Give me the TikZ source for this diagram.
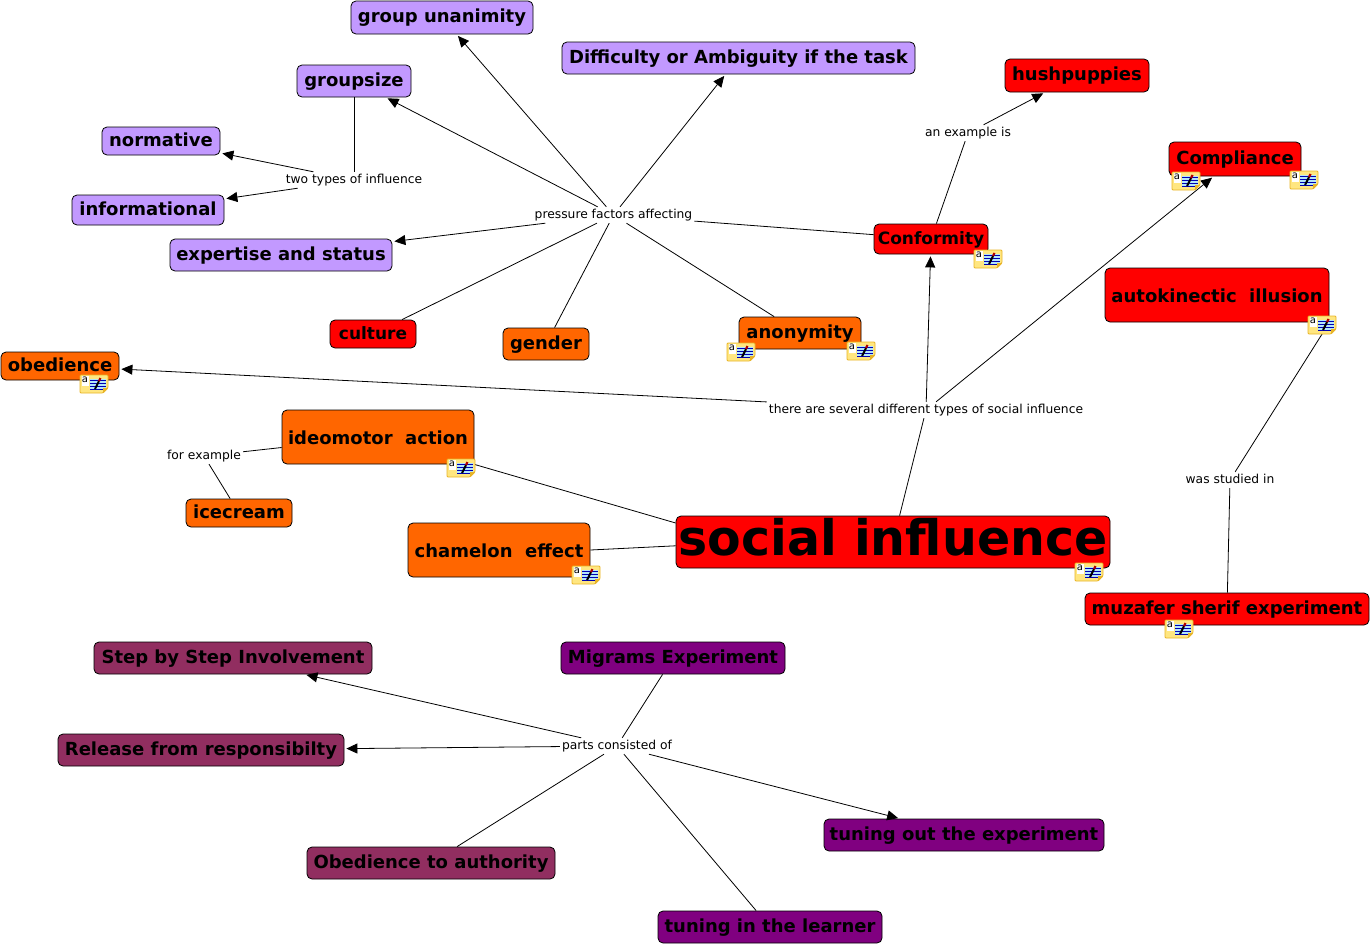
\documentclass[tikz,border=0pt]{standalone}
\usepackage{fontspec}
\setmainfont{DejaVu Sans}
\usepackage{xcolor}
\usetikzlibrary{arrows.meta}
\definecolor{cmlilac}{RGB}{194,153,255}
\definecolor{cmred}{RGB}{255,0,0}
\definecolor{cmorange}{RGB}{255,102,0}
\definecolor{cmplum}{RGB}{145,46,96}
\definecolor{cmpurple}{RGB}{128,0,128}
\definecolor{cmnote}{RGB}{255,230,128}
\definecolor{cmnotedge}{RGB}{232,180,40}

\begin{document}
\begin{tikzpicture}[
  x=1pt, y=-1pt,
  concept/.style={rectangle, draw=black, line width=0.8pt, rounded corners=5pt,
                  text=black, inner sep=0pt, align=center, text height=14pt, text depth=4pt,
                  font=\bfseries\fontsize{#1}{#1}\selectfont},
  concept/.default=18,
  boxsize/.style 2 args={minimum width=#1pt, minimum height=#2pt},
  lowtext/.style={text height=21pt, text depth=7pt},
  linking/.style={inner sep=2pt, text height=9pt, text depth=3pt,
                  font=\fontsize{12.3}{12.3}\selectfont},
  link/.style={draw=black, line width=0.8pt},
  flow/.style={link, -{Triangle[length=11pt,width=10pt]}, shorten >=2pt},
  noteicon/.pic={
    \fill[cmnote, draw=cmnotedge, line width=0.8pt, rounded corners=1pt]
      (-14,-9) -- (14,-9) -- (14,4) -- (9,9) -- (-14,9) -- cycle;
    \fill[white] (-12,-8) rectangle (-5,2);
    \node[inner sep=0pt, font=\fontsize{10}{10}\selectfont] (a) at (-9,-4) {a};
    \fill[white!70!cyan] (-4,-5) rectangle (12,5);
    \foreach \ly in {-4,-1,2,5} \draw[blue!70!black, line width=0.5pt] (-4,\ly) -- (12,\ly);
    \draw[black, line width=2pt] (1,5) -- (5,-3);
    \draw[red!70!black, line width=2.2pt] (5,-3) -- (6.5,-6);
    \fill[cmnotedge] (14,4) -- (9,4) -- (9,9) -- cycle;
  },
]

% Central concept
\node[concept=49, fill=cmred, boxsize={434}{52}, text height=36pt, text depth=10pt] (social) at (893,542) {social influence};

% Lilac concepts
\node[concept, fill=cmlilac, boxsize={182}{33}] (unanimity) at (442,17.5) {group unanimity};
\node[concept, fill=cmlilac, boxsize={353}{32}] (difficulty) at (738.5,58) {Difficulty or Ambiguity if the task};
\node[concept, fill=cmlilac, boxsize={114}{32}] (groupsize) at (354,81) {groupsize};
\node[concept, fill=cmlilac, boxsize={118}{28}] (normative) at (161,141) {normative};
\node[concept, fill=cmlilac, boxsize={152}{30}] (informational) at (148,210) {informational};
\node[concept, fill=cmlilac, boxsize={222}{32}] (expertise) at (281,255) {expertise and status};

% Red concepts
\node[concept=17, fill=cmred, boxsize={86}{28}] (culture) at (373,334) {culture};
\node[concept=17, fill=cmred, boxsize={114}{30}] (conformity) at (931,239) {Conformity};
\node[concept, fill=cmred, boxsize={144}{33}] (hushpuppies) at (1077,75.5) {hushpuppies};
\node[concept, fill=cmred, boxsize={132}{34}] (compliance) at (1235,159) {Compliance};
\node[concept, lowtext, fill=cmred, boxsize={224}{54}] (autokinectic) at (1217,295) {autokinectic\ \ illusion};
\node[concept, fill=cmred, boxsize={284}{32}] (muzafer) at (1227,609) {muzafer sherif experiment};

% Orange concepts
\node[concept, fill=cmorange, boxsize={86}{32}] (gender) at (546,344) {gender};
\node[concept, fill=cmorange, boxsize={122}{32}] (anonymity) at (800,333) {anonymity};
\node[concept, fill=cmorange, boxsize={118}{28}] (obedience) at (60,366) {obedience};
\node[concept, lowtext, fill=cmorange, boxsize={192}{54}] (ideomotor) at (378,437) {ideomotor\ \ action};
\node[concept, fill=cmorange, boxsize={106}{28}] (icecream) at (239,513) {icecream};
\node[concept, lowtext, fill=cmorange, boxsize={182}{54}] (chamelon) at (499,550) {chamelon\ \ effect};

% Milgram concepts
\node[concept, fill=cmplum, boxsize={278}{32}] (stepbystep) at (233,658) {Step by Step Involvement};
\node[concept, fill=cmpurple, boxsize={224}{32}] (migrams) at (673,658) {Migrams Experiment};
\node[concept, fill=cmplum, boxsize={286}{32}] (release) at (201,750) {Release from responsibilty};
\node[concept, fill=cmplum, boxsize={248}{32}] (authority) at (431,863) {Obedience to authority};
\node[concept, fill=cmpurple, boxsize={280}{32}] (tuningout) at (964,835) {tuning out the experiment};
\node[concept, fill=cmpurple, boxsize={224}{32}] (tuningin) at (770,927) {tuning in the learner};

% Linking phrases
\node[linking] (twotypes) at (354,180) {two types of influence};
\node[linking] (pressure) at (613.5,215) {pressure factors affecting};
\node[linking] (exampleis) at (968,133) {an example is};
\node[linking] (severaltypes) at (926,410) {there are several different types of social influence};
\node[linking] (forexample) at (204,456) {for example};
\node[linking] (studiedin) at (1230,480) {was studied in};
\node[linking] (partsof) at (617,746) {parts consisted of};

% Two types of influence
\draw[link] (groupsize) -- (twotypes);
\draw[flow] (twotypes) -- (normative);
\draw[flow] (twotypes) -- (informational);

% Pressure factors
\draw[link] (conformity) -- (pressure);
\draw[flow] (pressure) -- (unanimity);
\draw[flow] (pressure) -- (difficulty);
\draw[flow] (pressure) -- (groupsize);
\draw[flow] (pressure) -- (expertise);
\draw[link] (pressure) -- (culture);
\draw[link] (pressure) -- (gender);
\draw[link] (pressure) -- (anonymity);

% Conformity and hushpuppies
\draw[link] (conformity) -- (exampleis);
\draw[flow] (exampleis) -- (hushpuppies);

% Types of social influence
\draw[link] (social) -- (severaltypes);
\draw[flow] (severaltypes) -- (conformity);
\draw[flow] (severaltypes) -- (compliance);
\draw[flow] (severaltypes) -- (obedience);

% Ideomotor and chamelon
\draw[link] (ideomotor.south east) -- (social.175.5);
\draw[link] (chamelon.east) -- (social.181.6);
\draw[link] (ideomotor) -- (forexample);
\draw[link] (forexample) -- (icecream);

% Sherif
\draw[link] (muzafer) -- (studiedin);
\draw[link] (studiedin) -- (autokinectic.south east);

% Milgram parts
\draw[link] (migrams) -- (partsof);
\draw[flow] (partsof) -- (stepbystep);
\draw[flow] (partsof) -- (release);
\draw[link] (partsof) -- (authority);
\draw[link] (partsof) -- (tuningin);
\draw[flow] (partsof) -- (tuningout);

% Note icons
\foreach \ix/\iy [count=\n] in {1186/181, 1304/180, 988/259, 1322/325, 741/352, 861/351,
    94/384, 461/468, 586/575, 1089/572, 1179/629}
  \pic (note\n) at (\ix,\iy) {noteicon};

\useasboundingbox (0,0) rectangle (1372,945);
\end{tikzpicture}
\end{document}
